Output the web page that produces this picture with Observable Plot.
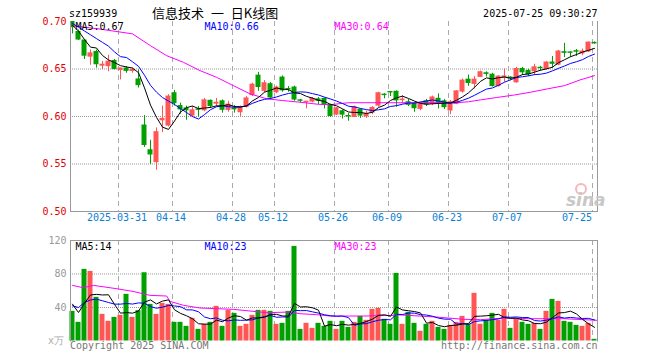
<!DOCTYPE html>
<html><head><meta charset="utf-8">
<script src="https://cdn.jsdelivr.net/npm/d3@7"></script>
<script src="https://cdn.jsdelivr.net/npm/@observablehq/plot@0.6"></script>
<style>
body{margin:0;background:#fff;}
#wrap{position:relative;width:660px;height:360px;overflow:hidden;background:#fff;}
#wrap svg{position:absolute;left:0;top:0;}
</style></head><body><div id="wrap"></div>
<script>
// ---- data (index 0 = 2025-03-19 ... index 87 = 2025-07-25)
const open  = [0.700,0.689,0.680,0.663,0.668,0.6535,0.653,0.6585,0.649,0.6505,
  0.648,0.639,0.5905,0.5645,0.552,0.596,0.5905,0.6245,0.611,0.6085,
  0.601,0.6075,0.6065,0.6165,0.6135,0.616,0.607,0.6085,0.6045,0.610,
  0.6225,0.643,0.627,0.634,0.6255,0.641,0.629,0.6305,0.617,0.6150,
  0.6157,0.618,0.6185,0.612,0.602,0.6055,0.6005,0.5995,0.607,0.600,
  0.604,0.6115,0.623,0.6258,0.626,0.6172,0.615,0.6133,0.608,0.616,
  0.6133,0.6186,0.616,0.6063,0.6133,0.6262,0.6388,0.6343,0.6417,0.6455,
  0.644,0.632,0.6412,0.641,0.636,0.650,0.648,0.6476,0.6513,0.650,
  0.6568,0.6545,0.6677,0.6675,0.6688,0.6664,0.6684,0.6775];
const high  = [0.701,0.691,0.681,0.670,0.670,0.658,0.6645,0.660,0.651,0.6525,
  0.651,0.649,0.601,0.575,0.588,0.611,0.623,0.6275,0.614,0.611,
  0.6105,0.6105,0.619,0.6175,0.619,0.6175,0.616,0.6115,0.611,0.621,
  0.635,0.6465,0.6378,0.6357,0.632,0.6427,0.6315,0.632,0.618,0.616,
  0.620,0.620,0.6195,0.613,0.6095,0.607,0.603,0.611,0.608,0.6056,
  0.6105,0.6255,0.624,0.6262,0.627,0.622,0.618,0.615,0.615,0.618,
  0.6215,0.6238,0.618,0.6168,0.627,0.6395,0.6437,0.642,0.6478,0.647,
  0.6455,0.643,0.650,0.6417,0.6517,0.6517,0.6497,0.655,0.6528,0.6578,
  0.6632,0.6696,0.677,0.668,0.6705,0.671,0.6785,0.6785];
const low   = [0.687,0.680,0.660,0.654,0.651,0.6495,0.647,0.649,0.6385,0.6455,
  0.6455,0.630,0.5675,0.5495,0.5435,0.583,0.589,0.611,0.6025,0.596,
  0.5995,0.5995,0.605,0.6085,0.610,0.6035,0.6045,0.6035,0.600,0.609,
  0.621,0.6265,0.625,0.6175,0.624,0.6255,0.6255,0.616,0.614,0.608,
  0.6145,0.6125,0.608,0.599,0.601,0.5975,0.595,0.599,0.598,0.598,
  0.602,0.6098,0.6186,0.621,0.6098,0.6135,0.6105,0.6045,0.606,0.6105,
  0.6115,0.608,0.6075,0.602,0.6125,0.6245,0.6318,0.629,0.641,0.6415,
  0.631,0.631,0.636,0.6375,0.635,0.643,0.642,0.643,0.6475,0.649,
  0.6508,0.6535,0.662,0.6622,0.6632,0.664,0.6675,0.676];
const close = [0.694,0.681,0.664,0.6665,0.655,0.6545,0.6577,0.650,0.6505,0.648,
  0.649,0.633,0.570,0.560,0.5835,0.5975,0.621,0.614,0.6075,0.6065,
  0.6065,0.607,0.617,0.611,0.6145,0.607,0.6125,0.6075,0.6095,0.619,
  0.6335,0.631,0.635,0.620,0.6305,0.6275,0.6285,0.6178,0.6165,0.6155,
  0.6185,0.6165,0.6125,0.6005,0.6087,0.602,0.600,0.6098,0.601,0.6028,
  0.609,0.6245,0.6225,0.6253,0.617,0.6178,0.6123,0.6087,0.6133,0.6126,
  0.620,0.614,0.6098,0.615,0.6265,0.6378,0.6353,0.6388,0.6466,0.6448,
  0.632,0.642,0.6422,0.6403,0.650,0.6465,0.6446,0.6518,0.6508,0.6568,
  0.6555,0.6684,0.667,0.667,0.6682,0.6684,0.6778,0.677];
const volume = [35.4,22.3,85.5,83.1,52.1,31.8,23.5,28.2,30.6,55.7,
  28.2,36.2,81.5,43.7,31.8,44.9,43.7,22.3,22.3,17.5,
  27.1,13.9,19.9,22.3,41.4,17.5,36.6,33.0,17.5,19.9,
  30.6,36.6,36.6,35.4,19.9,21.1,35.4,112.9,13.9,21.1,
  15.1,21.1,17.5,23.5,13.9,23.5,16.3,22.3,29.4,24.7,
  37.8,39.0,25.9,19.9,80.7,19.9,34.2,21.1,11.6,19.9,
  23.5,16.3,13.9,18.7,22.3,29.4,19.9,56.9,19.9,24.7,
  33.0,24.7,37.8,15.1,25.9,22.3,19.9,21.1,13.9,35.4,
  49.7,47.3,23.5,22.3,18.7,17.5,21.1,2.0];

const tickIdx    = [8,17,27,34,44,53,63,73,87];
const tickLabels = ["2025-03-31","04-14","04-28","05-12","05-26","06-09","06-23","07-07","07-25"];
const priceTicks = [0.50,0.55,0.60,0.65,0.70];
const volTicks   = [40,80,120];

const ma5Head  = [0.696,0.690,0.681,0.673];
const ma10Head = [0.698,0.694,0.690,0.686,0.682,0.678,0.674,0.668,0.663];
const ma30Idx  = [0,4.6,10,13,15.7,18.5,21.25,24,26.8,29.6,32.4,35,38,41,43,46,54,60,64,66,68,70.7,73.5,76.3,79.1,82,84.6,87];
const ma30Val  = [0.6955,0.692,0.687,0.6745,0.664,0.657,0.6483,0.6413,0.6325,0.6238,0.6186,0.6168,0.615,0.6128,0.6125,0.6145,0.6145,0.6145,0.6145,0.6155,0.6175,0.620,0.6225,0.6255,0.629,0.6325,0.6385,0.643];
const vma5Head  = [44,34,45,55];
const vma10Head = [42,40,46,49,50,48,46,44,44];
const vma30Idx  = [0,1.8,3.5,7.4,10.1,12.9,15.7,16.25,18.5,21.25,26.8,32.4,36.25,37.9,40.7,42.9,48.5,53.5,54,60.7,65.2,68,71.9,76.3,81.9,87.4];
const vma30Val  = [66.4,63.6,66.4,62.4,59.2,54.5,53.7,47.3,42.6,39.4,37.8,33.8,34.6,32.6,31.4,29.8,29.8,30.6,31.4,28.6,25.9,25.5,27.4,26.6,26.6,24.7];

const legendPrice = ["MA5:0.67","MA10:0.66","MA30:0.64"];
const legendVol   = ["MA5:14","MA10:23","MA30:23"];
const code = "sz159939";
const title = "信息技术 一 日K线图";
const stamp = "2025-07-25 09:30:27";

// ---- derived
const RED = "#ff5555", GREEN = "#00a000", BLUE = "#0000ff", MAG = "#ff00ff";
const MONO = "DejaVu Sans Mono";
const movingAvg = (vals, k, head) => vals.map((v, i) => i >= k - 1 ? d3.mean(vals.slice(i - k + 1, i + 1)) : head[i]);
const bars = open.map((o, i) => ({i, o, h: high[i], l: low[i], c: close[i], v: volume[i], col: close[i] >= o ? RED : GREEN}));
const ma5 = movingAvg(close, 5, ma5Head).map((y, i) => ({i, y}));
const ma10 = movingAvg(close, 10, ma10Head).map((y, i) => ({i, y}));
const ma30 = ma30Idx.map((i, j) => ({i, y: ma30Val[j]}));
const vma5 = movingAvg(volume, 5, vma5Head).map((y, i) => ({i, y}));
const vma10 = movingAvg(volume, 10, vma10Head).map((y, i) => ({i, y}));
const vma30 = vma30Idx.map((i, j) => ({i, y: vma30Val[j]}));
const ticks = tickIdx.map((idx, j) => ({idx, label: tickLabels[j]}));
const HW = 5 / 12;
const xDomain = [-1 / 3, 87.5];
const common = {width: 660, height: 360, marginLeft: 70, marginRight: 63,
  style: {background: "transparent", overflow: "visible"}, color: {type: "identity"}};

const price = Plot.plot({
  ...common, marginTop: 21, marginBottom: 149,
  x: {domain: xDomain, axis: null},
  y: {domain: [0.5, 0.7], axis: null},
  marks: [
    Plot.ruleY(priceTicks.slice(1, 4), {stroke: "#999", strokeDasharray: "1,1"}),
    Plot.ruleX(tickIdx, {dx: -2, stroke: "#aaa", strokeDasharray: "5,4"}),
    Plot.ruleX(bars, {x: "i", y1: "l", y2: "h", stroke: "col", clip: true}),
    Plot.rect(bars, {x1: d => d.i - HW, x2: d => d.i + HW, y1: "o", y2: "c", fill: "col", insetTop: -0.5, insetBottom: -0.5, clip: true}),
    Plot.line(ma30, {x: "i", y: "y", stroke: MAG, strokeWidth: 1, clip: true}),
    Plot.line(ma10, {x: "i", y: "y", stroke: BLUE, strokeWidth: 1, clip: true}),
    Plot.line(ma5, {x: "i", y: "y", stroke: "#000", strokeWidth: 1, clip: true}),
    Plot.frame({anchor: "left", stroke: "#999"}),
    Plot.frame({anchor: "right", stroke: "#999"}),
    Plot.frame({anchor: "bottom", stroke: "#999"}),
    Plot.axisY(priceTicks, {tickSize: 0, tickPadding: 4, tickFormat: ".2f", fill: "#e00000", fontSize: 10, fontFamily: MONO}),
    Plot.text(ticks.slice(0, -1), {x: "idx", text: "label", frameAnchor: "bottom", dx: -3.5, dy: 9.5, fill: "#0a7fd6", fontSize: 10, fontFamily: MONO}),
    Plot.text(ticks.slice(-1), {x: "idx", text: "label", frameAnchor: "bottom", dx: -2.5, dy: 9.5, textAnchor: "end", fill: "#0a7fd6", fontSize: 10, fontFamily: MONO})
  ]
});

const vol = Plot.plot({
  ...common, marginTop: 240, marginBottom: 19.5,
  x: {domain: xDomain, axis: null},
  y: {domain: [0, 120], axis: null},
  marks: [
    Plot.ruleY(volTicks.slice(0, 2), {stroke: "#999", strokeDasharray: "1,1"}),
    Plot.ruleX(tickIdx, {dx: -2, stroke: "#aaa", strokeDasharray: "5,4"}),
    Plot.rect(bars, {x1: d => d.i - HW, x2: d => d.i + HW, y1: 0, y2: "v", fill: "col"}),
    Plot.line(vma30, {x: "i", y: "y", stroke: MAG, strokeWidth: 1}),
    Plot.line(vma10, {x: "i", y: "y", stroke: BLUE, strokeWidth: 1}),
    Plot.line(vma5, {x: "i", y: "y", stroke: "#000", strokeWidth: 1}),
    Plot.frame({anchor: "top", stroke: "#999"}),
    Plot.frame({anchor: "left", stroke: "#999"}),
    Plot.frame({anchor: "right", stroke: "#999"}),
    Plot.axisY(volTicks, {tickSize: 0, tickPadding: 4, fill: "#999", fontSize: 10, fontFamily: MONO})
  ]
});

const wrap = document.getElementById("wrap");
wrap.appendChild(price);
wrap.appendChild(vol);

// ---- text overlay
const svg = d3.select(wrap).append("svg").attr("width", 660).attr("height", 360)
  .style("font-family", MONO).style("font-size", "10px");
const txt = (s, x, y, fill, anchor = "start") => svg.append("text").attr("x", x).attr("y", y)
  .attr("fill", fill).attr("text-anchor", anchor).text(s);
txt(code, 69, 16.5, "#000");
txt(title, 152, 18, "#000").style("font-family", "'Noto Sans CJK SC'").style("font-size", "13px")
  .style("word-spacing", "4px").style("white-space", "pre");
txt(stamp, 597.5, 16.5, "#000", "end");
const lx = [75.5, 204.5, 334.5], lc = ["#000", BLUE, MAG];
legendPrice.forEach((s, j) => txt(s, lx[j], 29.5, lc[j]));
legendVol.forEach((s, j) => txt(s, lx[j], 250, lc[j]));
txt("x万", 64, 344, "#aaa", "end");
txt("Copyright 2025 SINA.COM", 70, 349, "#777");
txt("http://finance.sina.com.cn", 597.5, 349, "#777", "end");
// watermark
svg.append("circle").attr("cx", 581).attr("cy", 189).attr("r", 5).attr("fill", "none").attr("stroke", "#f4b8b8").attr("stroke-width", 2);
txt("sina", 566, 206, "#c8c8c8").style("font-family", "'DejaVu Sans'").style("font-size", "17px").style("font-weight", "bold").style("font-style", "italic");
</script></body></html>
